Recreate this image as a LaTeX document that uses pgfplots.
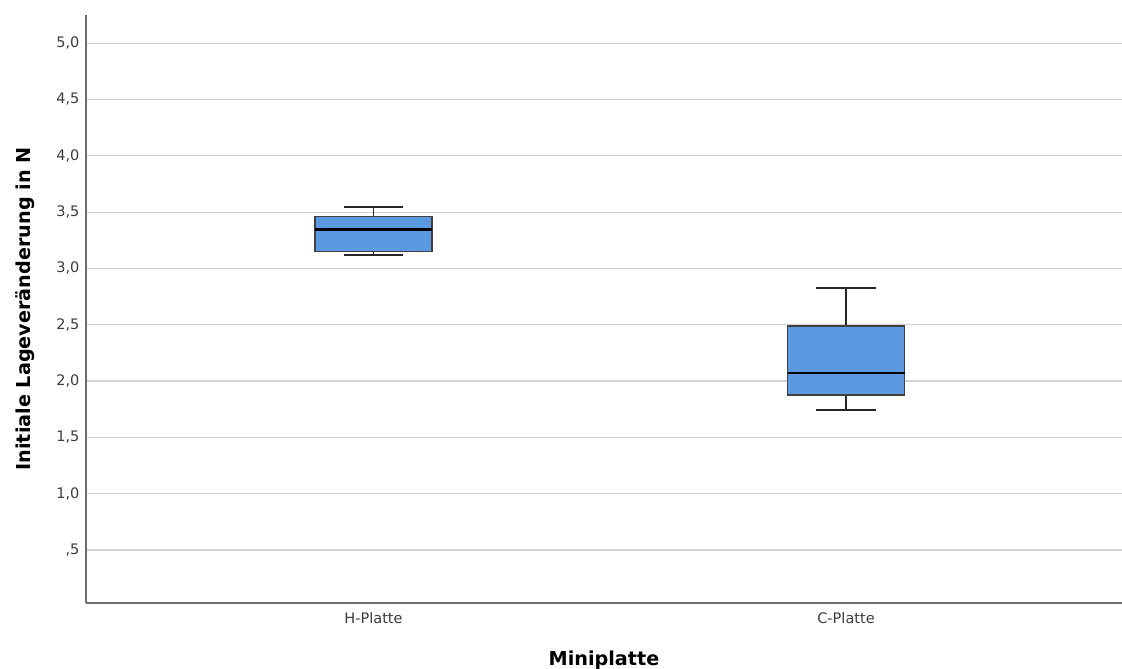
\documentclass[border=0pt]{standalone}
\usepackage{pgfplots}
\pgfplotsset{compat=1.18}
\usepgfplotslibrary{statistics}
\usepackage{fontspec}
\setmainfont{DejaVu Sans}
\setsansfont{DejaVu Sans}
\definecolor{boxfill}{RGB}{91,154,224}
\definecolor{gridc}{RGB}{210,210,210}
\definecolor{axc}{RGB}{110,110,110}
\definecolor{tickc}{RGB}{60,60,60}
\begin{document}
\begin{tikzpicture}
\path[use as bounding box] (0,0) rectangle (1122pt,669pt);
\begin{axis}[
  at={(86pt,66pt)}, anchor=south west,
  scale only axis, width=1036pt, height=588pt,
  xmin=0.3915, xmax=2.584, ymin=0.03, ymax=5.25,
  axis x line*=bottom, axis y line*=left,
  axis line style={color=axc, line width=1.2pt, -},
  xtick={1,2}, xticklabels={H-Platte,C-Platte},
  ytick={0.5,1,1.5,2,2.5,3,3.5,4,4.5,5},
  yticklabels={{,5},{1,0},{1,5},{2,0},{2,5},{3,0},{3,5},{4,0},{4,5},{5,0}},
  major tick length=0pt,
  ymajorgrids, grid style={color=gridc, line width=1.2pt},
  tick label style={font=\fontsize{14.5}{16}\selectfont, color=tickc},
  yticklabel style={xshift=-3pt},
  xticklabel style={yshift=-6pt},
  xlabel={\textbf{Miniplatte}},
  ylabel={\textbf{Initiale Lageveränderung in N}},
  label style={font=\fontsize{19.2}{21}\selectfont, color=black},
  xlabel style={yshift=-20pt},
  ylabel style={yshift=15pt},
  boxplot/draw direction=y,
  boxplot/box extend=0.2476,
  boxplot/whisker extend=0.125,
]
\addplot[boxplot prepared={lower whisker=3.122, lower quartile=3.153, median=3.344, upper quartile=3.464, upper whisker=3.544, draw position=1},
  fill=boxfill, draw=black!75, line width=1.3pt,
  boxplot/every median/.style={draw=black, line width=2.8pt},
  boxplot/every whisker/.style={draw=black!85, line width=1.6pt}] coordinates {};
\addplot[boxplot prepared={lower whisker=1.742, lower quartile=1.876, median=2.071, upper quartile=2.488, upper whisker=2.825, draw position=2},
  fill=boxfill, draw=black!75, line width=1.3pt,
  boxplot/every median/.style={draw=black, line width=2.8pt},
  boxplot/every whisker/.style={draw=black!85, line width=1.6pt}] coordinates {};
\end{axis}
\end{tikzpicture}
\end{document}
